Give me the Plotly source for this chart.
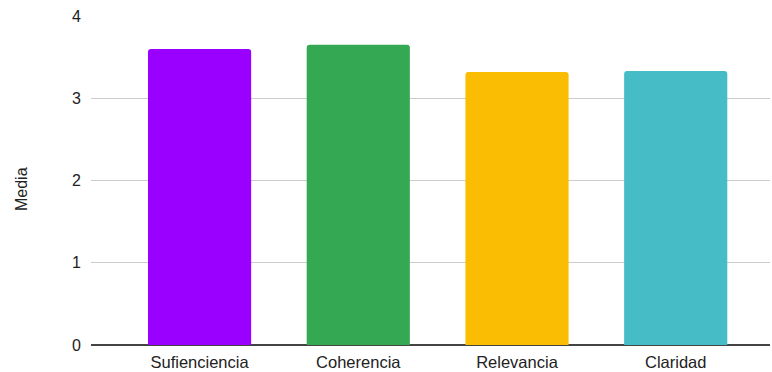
import plotly.graph_objects as go

categories = ["Sufienciencia", "Coherencia", "Relevancia", "Claridad"]
values = [3.6, 3.65, 3.32, 3.33]
colors = ["#9900ff", "#34a853", "#fbbc04", "#46bdc6"]
y_ticks = [0, 1, 2, 3, 4]

fig = go.Figure(go.Bar(
    x=categories, y=values, marker=dict(color=colors, cornerradius=3, line=dict(width=0)),
    width=0.65,
))
fig.update_layout(
    width=772, height=372,
    margin=dict(l=91, r=2, t=16, b=27),
    paper_bgcolor="white", plot_bgcolor="white",
    font=dict(family="Liberation Sans, Arial, sans-serif", size=16, color="#222222"),
    showlegend=False,
)
fig.update_xaxes(
    range=[-0.684, 3.594], showgrid=False, showline=False, ticks="",
    tickfont=dict(size=16.5, color="#222222"), ticklabelstandoff=5,
)
fig.update_yaxes(
    range=[0, 4], tickvals=y_ticks, showgrid=True, gridcolor="#cccccc", gridwidth=1,
    zeroline=True, zerolinecolor="#444444", zerolinewidth=1.5,
    showline=False, ticks="", tickfont=dict(size=16, color="#222222"), ticklabelstandoff=9,
)
fig.add_annotation(
    text="Media", xref="paper", yref="paper", x=-0.1031, y=0.474,
    xanchor="center", yanchor="middle", textangle=-90, showarrow=False,
    font=dict(size=16, color="#222222"),
)
fig.write_html("out.html")
